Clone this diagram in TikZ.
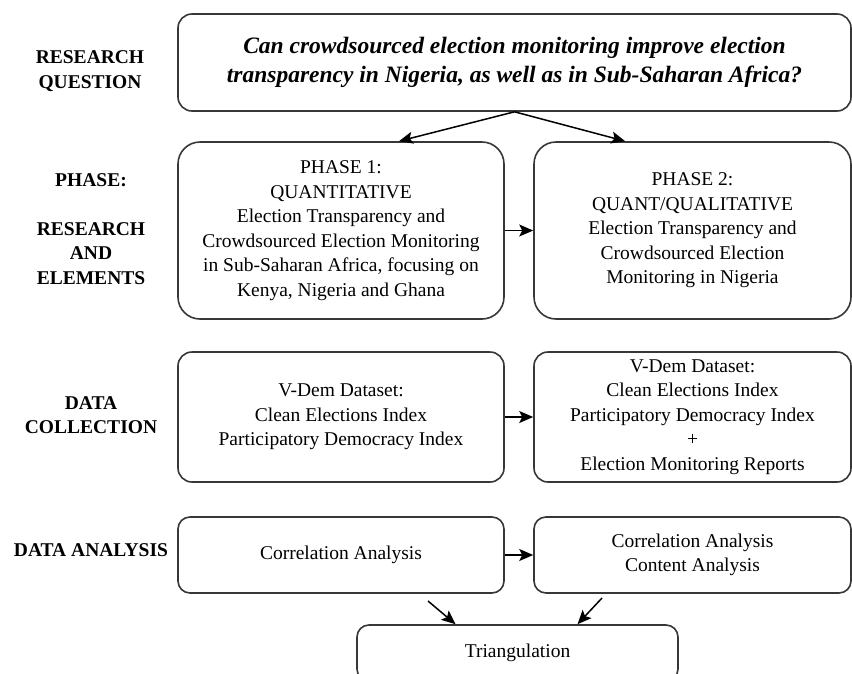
\documentclass[tikz,border=0pt]{standalone}
\usepackage{fontspec}
\setmainfont{Liberation Serif}
\usetikzlibrary{arrows.meta,calc}
\definecolor{boxline}{RGB}{55,55,55}

\tikzset{
    stage/.style={draw=boxline, line width=1.6pt, rounded corners=14pt, align=center, inner sep=0pt, font=\fontsize{19.5}{24.5}\selectfont},
    rowlabel/.style={align=center, font=\bfseries\fontsize{19.5}{24.5}\selectfont},
    link/.style={-{Stealth[length=14pt,width=12pt,inset=3pt]}, line width=1.5pt}
}

\begin{document}
\begin{tikzpicture}[x=1pt, y=-1pt]
    \clip (0,0) rectangle (852,673);

    % Etiquetas de la columna izquierda
    \node[rowlabel] (qlabel) at (90,71) {RESEARCH\\QUESTION};
    \node[rowlabel] (phlabel) at (91,229) {PHASE:\\[24.5pt]RESEARCH\\AND\\ELEMENTS};
    \node[rowlabel] (dclabel) at (91,415) {DATA\\COLLECTION};
    \node[rowlabel] (dalabel) at (91,550) {DATA ANALYSIS};

    % Pregunta
    \node[stage, minimum width=673pt, minimum height=97pt, font=\bfseries\itshape\fontsize{23.5}{29.5}\selectfont] (question) at (514.5,62.5) {Can crowdsourced election monitoring improve election\\transparency in Nigeria, as well as in Sub-Saharan Africa?};

    % Fases
    \node[stage, rounded corners=22pt, minimum width=326pt, minimum height=177pt] (phaseone) at (341,230.5) {PHASE 1:\\QUANTITATIVE\\Election Transparency and\\Crowdsourced Election Monitoring\\in Sub-Saharan Africa, focusing on\\Kenya, Nigeria and Ghana};
    \node[stage, rounded corners=22pt, minimum width=317pt, minimum height=177pt] (phasetwo) at (692.5,230.5) {PHASE 2:\\QUANT/QUALITATIVE\\Election Transparency and\\Crowdsourced Election\\Monitoring in Nigeria};

    % Datos
    \node[stage, minimum width=326pt, minimum height=130pt] (dataone) at (341,417) {V-Dem Dataset:\\Clean Elections Index\\Participatory Democracy Index};
    \node[stage, minimum width=317pt, minimum height=130pt] (datatwo) at (692.5,417) {V-Dem Dataset:\\Clean Elections Index\\Participatory Democracy Index\\+\\Election Monitoring Reports};

    % Analisis
    \node[stage, rounded corners=12pt, minimum width=326pt, minimum height=76pt] (anaone) at (341,555) {Correlation Analysis};
    \node[stage, rounded corners=12pt, minimum width=317pt, minimum height=76pt] (anatwo) at (692.5,555) {Correlation Analysis\\Content Analysis};

    \node[stage, rounded corners=12pt, minimum width=321pt, minimum height=56pt] (tri) at (517.5,653) {Triangulation};

    % Flechas
    \draw[link] (question.south) -- (phaseone.57);
    \draw[link] (question.south) -- (phasetwo.127);
    \draw[link] (phaseone) -- (phasetwo);
    \draw[link] (dataone) -- (datatwo);
    \draw[link] (anaone) -- (anatwo);

    \coordinate (fromone) at (428,601);
    \coordinate (fromtwo) at (602,598);
    \draw[link] (fromone) -- ($(tri.north)+(-62,0)$);
    \draw[link] (fromtwo) -- ($(tri.north)+(60,0)$);
\end{tikzpicture}
\end{document}
